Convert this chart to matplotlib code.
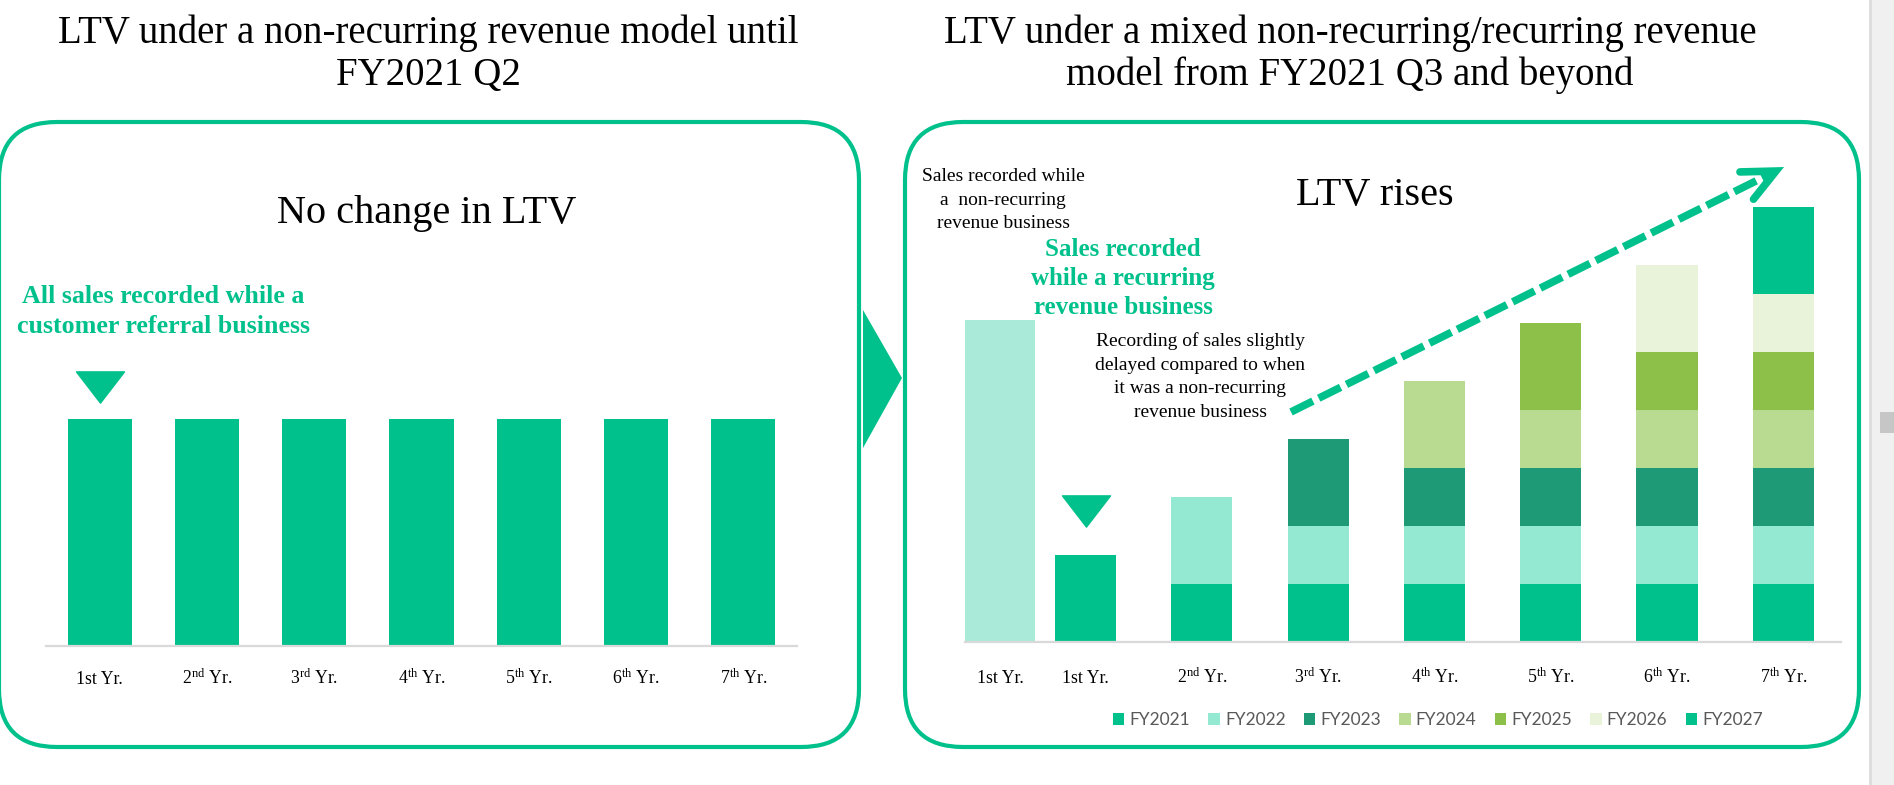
import matplotlib
matplotlib.use("Agg")
import matplotlib.pyplot as plt
from matplotlib.patches import FancyBboxPatch, Polygon, Rectangle, Patch
from matplotlib.transforms import IdentityTransform
from matplotlib.path import Path
import numpy as np

plt.rcParams['font.family'] = ['Liberation Serif', 'DejaVu Serif']
plt.rcParams['mathtext.fontset'] = 'custom'
plt.rcParams['mathtext.rm'] = 'Liberation Serif'
plt.rcParams['mathtext.it'] = 'Liberation Serif:italic'
plt.rcParams['mathtext.bf'] = 'Liberation Serif:bold'

# ---------------- data ----------------
left_labels = ["1st Yr.", r"$\mathrm{2}^{\mathrm{nd}}$ Yr.", r"$\mathrm{3}^{\mathrm{rd}}$ Yr.",
               r"$\mathrm{4}^{\mathrm{th}}$ Yr.", r"$\mathrm{5}^{\mathrm{th}}$ Yr.",
               r"$\mathrm{6}^{\mathrm{th}}$ Yr.", r"$\mathrm{7}^{\mathrm{th}}$ Yr."]
left_values = [1.0, 1.0, 1.0, 1.0, 1.0, 1.0, 1.0]

nonrec_label = "1st Yr."
nonrec_value = 5.55

right_labels = ["1st Yr.", r"$\mathrm{2}^{\mathrm{nd}}$ Yr.", r"$\mathrm{3}^{\mathrm{rd}}$ Yr.",
                r"$\mathrm{4}^{\mathrm{th}}$ Yr.", r"$\mathrm{5}^{\mathrm{th}}$ Yr.",
                r"$\mathrm{6}^{\mathrm{th}}$ Yr.", r"$\mathrm{7}^{\mathrm{th}}$ Yr."]
fiscal_years = ["FY2021", "FY2022", "FY2023", "FY2024", "FY2025", "FY2026", "FY2027"]
fy2021 = [1.5, 1.0, 1.0, 1.0, 1.0, 1.0, 1.0]
fy2022 = [0.0, 1.5, 1.0, 1.0, 1.0, 1.0, 1.0]
fy2023 = [0.0, 0.0, 1.5, 1.0, 1.0, 1.0, 1.0]
fy2024 = [0.0, 0.0, 0.0, 1.5, 1.0, 1.0, 1.0]
fy2025 = [0.0, 0.0, 0.0, 0.0, 1.5, 1.0, 1.0]
fy2026 = [0.0, 0.0, 0.0, 0.0, 0.0, 1.5, 1.0]
fy2027 = [0.0, 0.0, 0.0, 0.0, 0.0, 0.0, 1.5]
series = [fy2021, fy2022, fy2023, fy2024, fy2025, fy2026, fy2027]
fy_colors = ['#00C18B', '#93E9D2', '#1F9A77', '#B9DA91', '#8CC048', '#E8F3DA', '#00C18B']

GREEN = '#00C18B'
NONREC_COLOR = '#A9EAD8'
AXIS_GRAY = '#D9D9D9'

# ---------------- figure ----------------
W, H = 1894, 785
fig = plt.figure(figsize=(W / 100, H / 100), dpi=100)
fig.patch.set_facecolor('white')


def ax_px(x0, x1, ytop, ybot):
    a = fig.add_axes([x0 / W, 1 - ybot / H, (x1 - x0) / W, (ybot - ytop) / H])
    a.set_facecolor('none')
    return a


def lines_text(x, baselines, lines, **kw):
    for b, s in zip(baselines, lines):
        fig.text(x / W, 1 - b / H, s, ha='center', va='baseline', **kw)


def style_axis(a, pad):
    for s in ('top', 'left', 'right'):
        a.spines[s].set_visible(False)
    a.spines['bottom'].set_color(AXIS_GRAY)
    a.spines['bottom'].set_linewidth(1.6)
    a.set_yticks([])
    a.tick_params(axis='x', length=0, pad=pad, labelsize=12.8)
    for lab in a.get_xticklabels():
        lab.set_va('baseline')


# triangle marker (wide, short, pointing down)
tri = Path([(-1, 0.65), (1, 0.65), (0, -0.65), (-1, 0.65)],
           [Path.MOVETO, Path.LINETO, Path.LINETO, Path.CLOSEPOLY])

# ---- left chart ----
axL = ax_px(46, 797, 340, 646)
xl = np.arange(len(left_values))
axL.bar(xl, left_values, width=0.597, color=GREEN, linewidth=0)
axL.set_xlim(-0.5, 6.5)
axL.set_ylim(0, (646 - 340) / 227)
axL.set_xticks(xl)
axL.set_xticklabels(left_labels)
style_axis(axL, 27)
axL.plot([xl[0]], [left_values[0] + 0.139], marker=tri, ms=34.6, color=GREEN,
         linestyle='none', clip_on=False)

# ---- right chart ----
ppu = 116.3     # px per category
ppy = 58.0      # px per value unit
axR = ax_px(965, 1841, 150, 642)
xmin = 1 - (1085.5 - 965) / ppu
axR.set_xlim(xmin, xmin + (1841 - 965) / ppu)
axR.set_ylim(0, (642 - 150) / ppy)
xr = np.arange(1, len(fy2021) + 1)
axR.bar(0.265, nonrec_value, width=0.60, color=NONREC_COLOR, linewidth=0)
bottom = np.zeros(len(xr))
for vals, c in zip(series, fy_colors):
    axR.bar(xr, vals, bottom=bottom, width=0.525, color=c, linewidth=0)
    bottom += np.array(vals)
axR.set_xticks([0.265] + list(xr))
axR.set_xticklabels([nonrec_label] + right_labels)
style_axis(axR, 29.5)
axR.plot([xr[0]], [fy2021[0] + 0.767], marker=tri, ms=34.6, color=GREEN,
         linestyle='none', clip_on=False)

# dashed rising arrow
x0, y0 = 2.767, 3.966
x1, y1 = 6.937, 8.12
slope = (y1 - y0) / (x1 - x0)
axR.plot([x0, x1 - 0.05], [y0, y1 - 0.05 * slope], color=GREEN, lw=5.5,
         dashes=(3.2, 0.85), dash_capstyle='butt', clip_on=False)
theta = np.arctan2((y1 - y0) * ppy, (x1 - x0) * ppu)
L = 36
arms = []
for d in (+1, -1):
    ang = theta + np.pi + d * np.deg2rad(25)
    arms.append((x1 + L * np.cos(ang) / ppu, y1 + L * np.sin(ang) / ppy))
axR.plot([arms[0][0], x1, arms[1][0]], [arms[0][1], y1, arms[1][1]], color=GREEN, lw=5.5,
         solid_capstyle='round', solid_joinstyle='miter', clip_on=False)

# legend
handles = [Patch(facecolor=c, edgecolor='none') for c in fy_colors]
fig.legend(handles, fiscal_years, loc='center', bbox_to_anchor=(1438 / W, 1 - 720 / H),
           ncol=7, frameon=False, prop={'family': ['Lato', 'DejaVu Sans'], 'size': 12.5},
           handlelength=0.65, handleheight=0.65, handletextpad=0.3, columnspacing=1.05,
           labelcolor='#595959', borderpad=0, borderaxespad=0)

# ---------------- decorations ----------------
R = 58
for (bx0, bx1) in [(-1, 859), (905, 1859)]:
    box = FancyBboxPatch((bx0, H - 747), bx1 - bx0, 747 - 122,
                         boxstyle=f'round,pad=0,rounding_size={R}',
                         transform=IdentityTransform(), fill=False, ec=GREEN, lw=3.0)
    fig.add_artist(box)

fig.add_artist(Polygon([(863, H - 310), (863, H - 448), (902, H - 378)], closed=True,
                       transform=IdentityTransform(), fc=GREEN, ec='none'))

# scrollbar strip on the right
fig.add_artist(Rectangle((1869, 0), 25, H, transform=IdentityTransform(), fc='#F0F0F0', ec='none'))
fig.add_artist(Rectangle((1869, 0), 3, H, transform=IdentityTransform(), fc='#DEDEDE', ec='none'))
fig.add_artist(Rectangle((1880, H - 433), 14, 21, transform=IdentityTransform(), fc='#C6C6C6', ec='none'))

# ---------------- texts ----------------
lines_text(428.5, [43, 85], ["LTV under a non-recurring revenue model until", "FY2021 Q2"],
           fontsize=28, color='black')
lines_text(1350, [43, 85], ["LTV under a mixed non-recurring/recurring revenue",
                            "model from FY2021 Q3 and beyond"], fontsize=28, color='black')
lines_text(427, [223], ["No change in LTV"], fontsize=29, color='black')
lines_text(1375, [205], ["LTV rises"], fontsize=29, color='black')
lines_text(163, [303, 333], ["All sales recorded while a", "customer referral business"],
           fontsize=18.7, fontweight='bold', color=GREEN)
lines_text(1123, [256, 285, 314], ["Sales recorded", "while a recurring", "revenue business"],
           fontsize=18, fontweight='bold', color=GREEN)
lines_text(1003, [181, 205, 228], ["Sales recorded while", "a  non-recurring", "revenue business"],
           fontsize=14, color='black')
lines_text(1200, [346, 370, 393, 417], ["Recording of sales slightly", "delayed compared to when",
                                        "it was a non-recurring", "revenue business"],
           fontsize=14, color='black')

fig.savefig('out.png', dpi=100, facecolor='white')
